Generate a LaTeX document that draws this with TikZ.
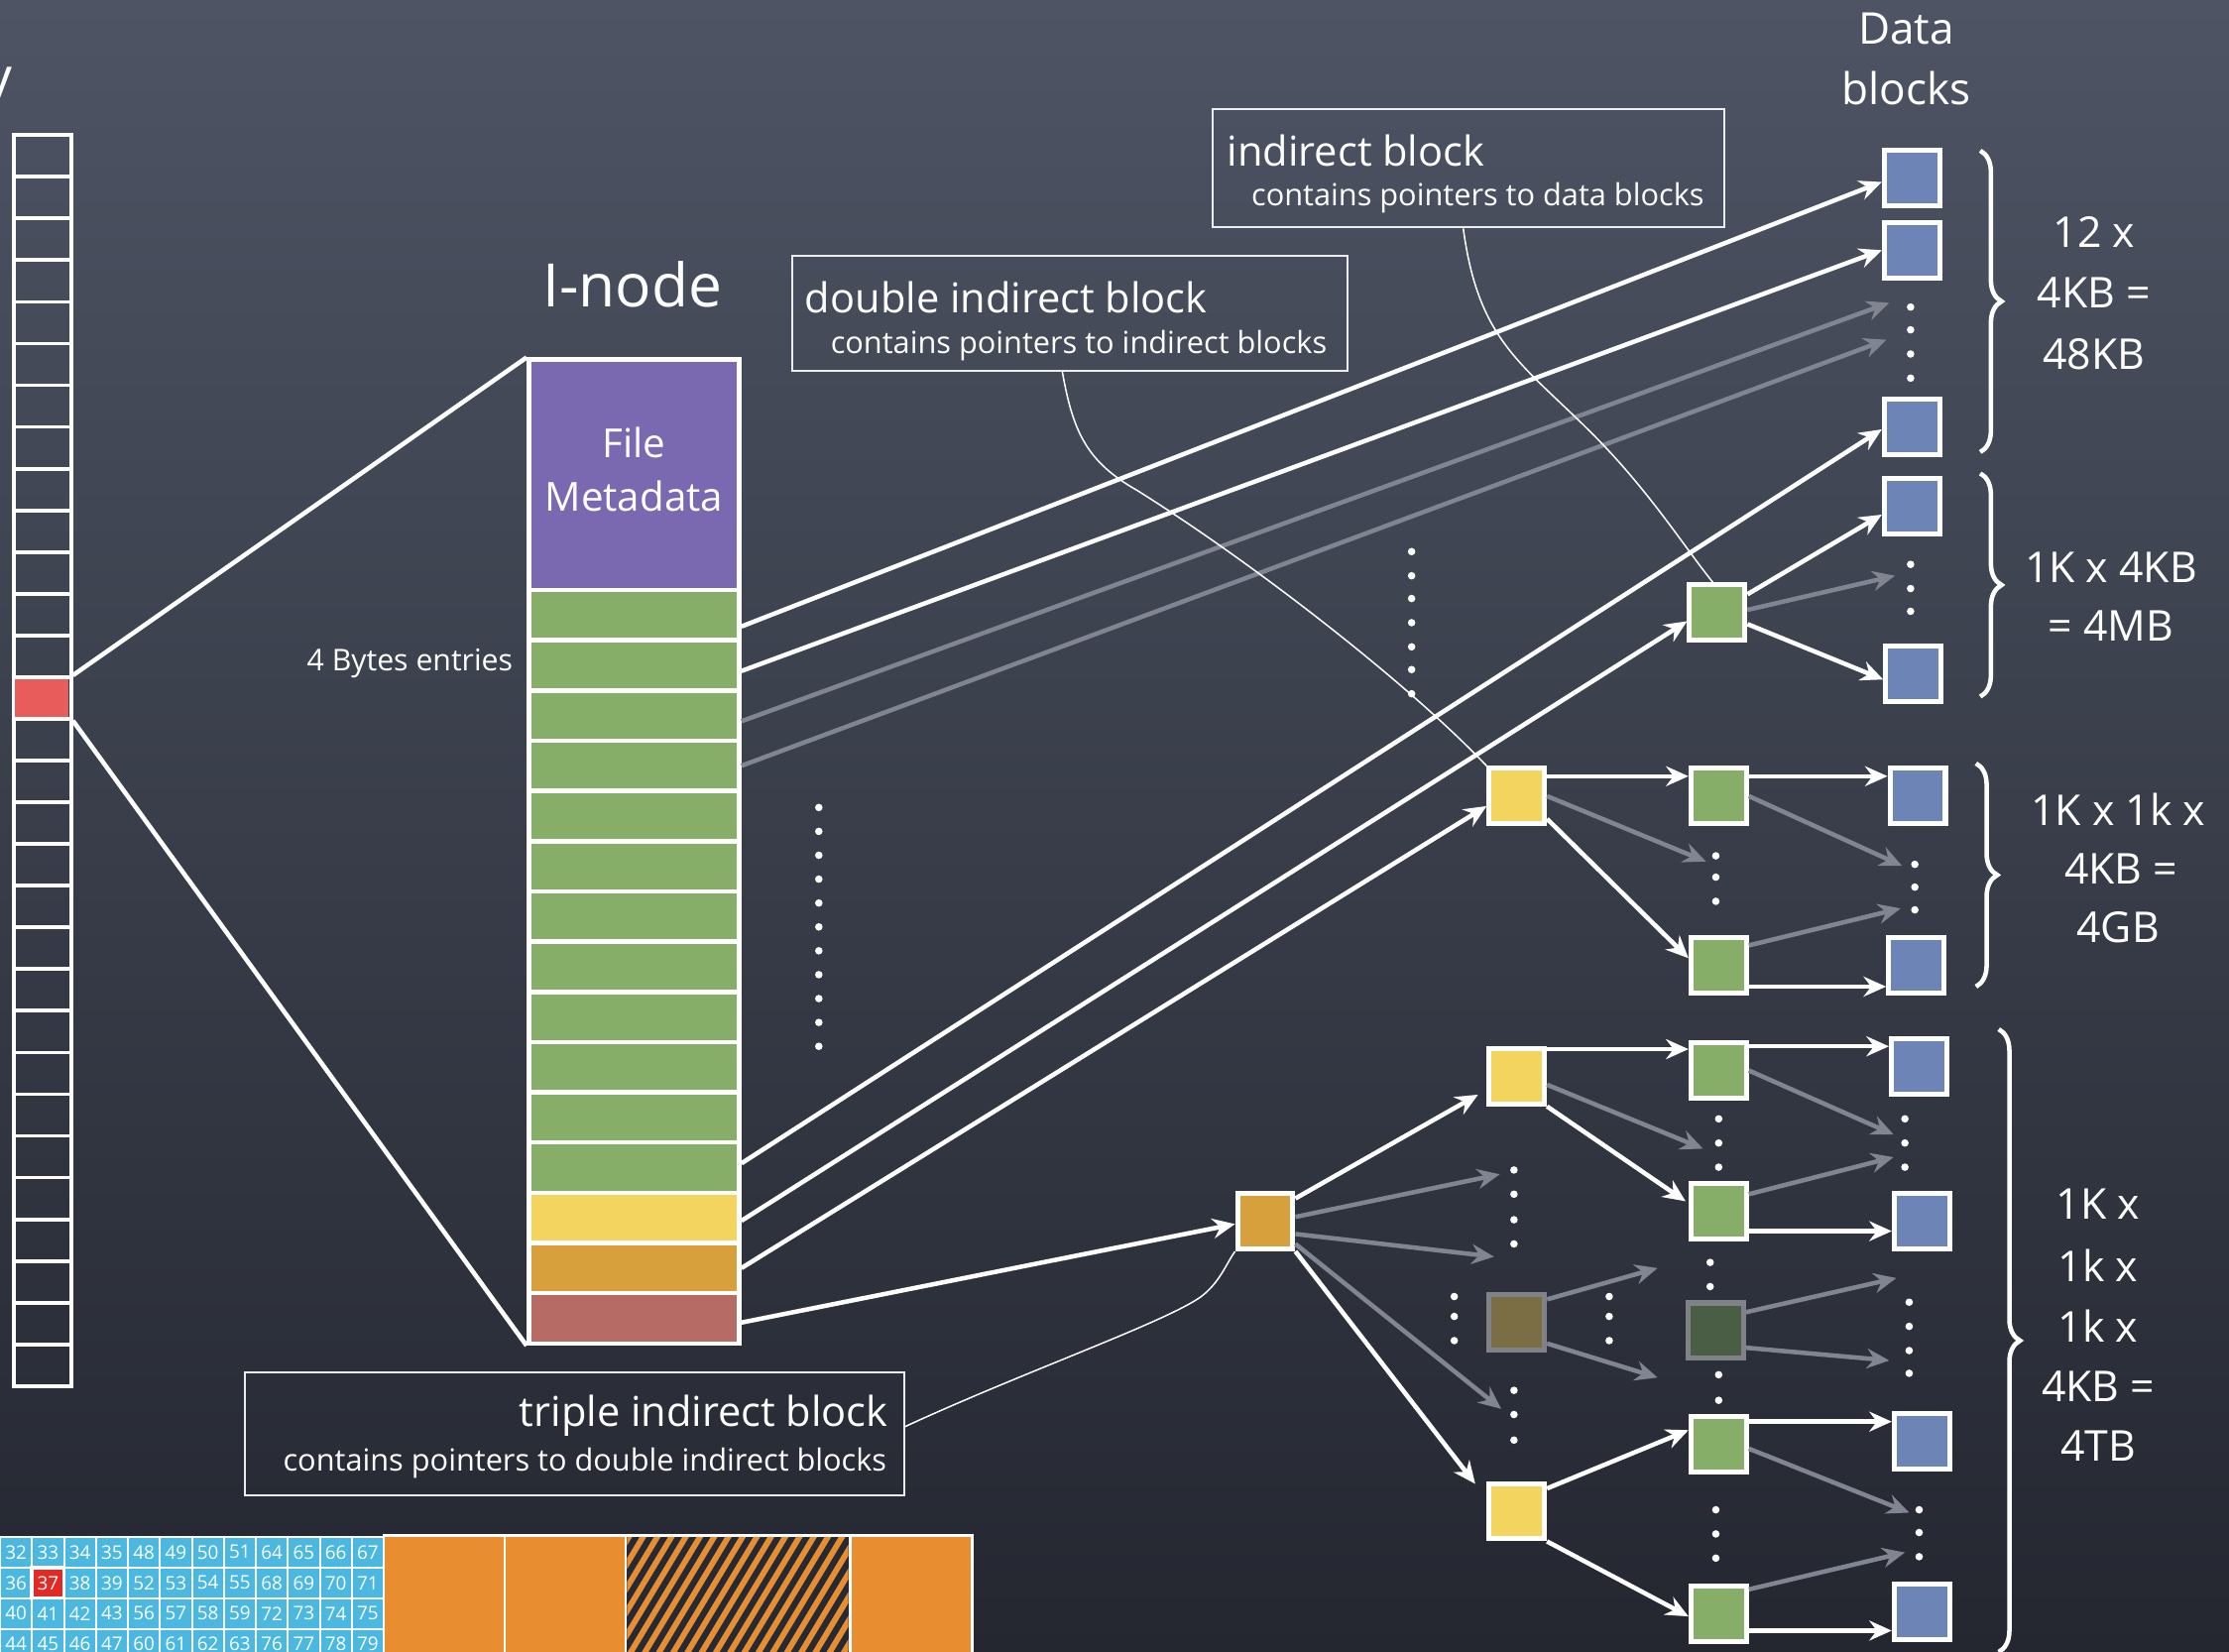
\documentclass[tikz,border=0pt]{standalone}
\usepackage{fontspec}
\setmainfont{Open Sans}
\usetikzlibrary{arrows.meta,calc,decorations.pathreplacing}
\definecolor{bgtop}{RGB}{78,84,100}
\definecolor{bgbot}{RGB}{36,39,48}
\definecolor{purp}{RGB}{122,104,176}
\definecolor{grn}{RGB}{134,174,104}
\definecolor{yel}{RGB}{242,212,94}
\definecolor{org}{RGB}{216,160,60}
\definecolor{redrow}{RGB}{182,108,100}
\definecolor{redcellc}{RGB}{232,92,92}
\definecolor{blu}{RGB}{108,133,182}
\definecolor{fyel}{RGB}{124,110,68}
\definecolor{fgrn}{RGB}{74,94,70}
\definecolor{fborder}{RGB}{128,130,136}
\definecolor{greyarr}{RGB}{128,133,145}
\definecolor{gridblue}{RGB}{74,184,224}
\definecolor{gridred}{RGB}{228,40,36}
\definecolor{stripc}{RGB}{232,142,48}
\definecolor{hatchbg}{RGB}{38,42,52}
\begin{document}
\begin{tikzpicture}[x=0.02cm,y=-0.02cm,
  blk/.style={draw=white,line width=2pt,minimum size=0.78cm,inner sep=0pt},
  dblk/.style={blk,fill=blu},
  gblk/.style={blk,fill=grn},
  yblk/.style={blk,fill=yel},
  oblk/.style={blk,fill=org},
  inrow/.style={draw=white,line width=1.8pt,minimum width=2.96cm,minimum height=0.7067cm,inner sep=0pt},
  cellbox/.style={draw=white,line width=1.5pt,minimum width=0.8cm,minimum height=0.5867cm,inner sep=0pt},
  wline/.style={draw=white,line width=1.8pt},
  warr/.style={wline,-{Stealth[length=9pt,width=8pt,inset=3pt]}},
  garr/.style={draw=greyarr,line width=1.8pt,-{Stealth[length=9pt,width=8pt,inset=3pt]}},
  thinl/.style={draw=white,line width=0.6pt},
  labbox/.style={draw=white!85!gray,line width=0.8pt,inner sep=0pt},
  bigt/.style={text=white,inner sep=0pt,font=\fontsize{16.5}{20}\selectfont},
  smallt/.style={text=white,inner sep=0pt,font=\fontsize{12.2}{15}\selectfont},
  numt/.style={text=white,inner sep=0pt,font=\fontsize{17}{20}\selectfont},
  brc/.style={draw=white,line width=1.8pt,decorate,decoration={brace,amplitude=0.3cm}},
  gridcell/.style={draw=white,line width=0.8pt,minimum width=0.45cm,minimum height=0.432cm,inner sep=0pt,text=white,font=\fontsize{7.5}{8}\selectfont},
  stripblk/.style={draw=white,line width=1pt,fill=stripc,minimum height=2cm,inner sep=0pt}
]
\useasboundingbox (0,0) rectangle (1568,1162);
\shade[top color=bgtop,bottom color=bgbot] (0,0) rectangle (1568,1162);

% cut-off letter at top left
\node[text=white,inner sep=0pt,font=\fontsize{22}{26}\selectfont,anchor=base east] (ytail) at (9,68) {y};

% left column
\foreach \i in {0,...,29} \node[cellbox] (c\i) at (30,{95+(\i+0.5)*29.333}) {};
\fill[redcellc] ($(c13.north west)+(2,3)$) rectangle ($(c13.south east)+(-3,-3)$);

% I-node
\node[text=white,inner sep=0pt,font=\fontsize{24}{28}\selectfont] (ititle) at (445,200) {I-node};
\node[inrow,fill=purp,minimum height=3.24cm] (meta) at (446,334) {};
\node[text=white,inner sep=0pt,align=center,font=\fontsize{16}{21.5}\selectfont] (metatxt) at (446,330) {File\\Metadata};
\foreach \i in {1,...,12} \node[inrow,fill=grn] (r\i) at (446,{415+(\i-0.5)*35.333}) {};
\node[inrow,fill=yel] (ry) at (446,856.7) {};
\node[inrow,fill=org] (ro) at (446,892) {};
\node[inrow,fill=redrow] (rr) at (446,927.3) {};
\node[text=white,inner sep=0pt,anchor=east,font=\fontsize{12}{14}\selectfont] (bytes) at (361,467) {4 Bytes entries};

\draw[wline] (c13.north east) -- (meta.north west);
\draw[wline] (c13.south east) -- (rr.south west);

% data blocks
\node[bigt,font=\fontsize{17.5}{20}\selectfont] (dt1) at (1341,20) {Data};
\node[bigt,font=\fontsize{17.5}{20}\selectfont] (dt2) at (1341,62) {blocks};
\node[dblk] (d1) at (1345,125) {};
\node[dblk] (d2) at (1345,176) {};
\node[dblk] (d3) at (1345,300) {};
\node[dblk] (d4) at (1345,356) {};
\node[dblk] (d5) at (1346,474) {};
\node[dblk] (d6) at (1349,560) {};
\node[dblk] (d7) at (1348,679) {};
\node[dblk] (d8) at (1350,750) {};
\node[dblk] (d9) at (1352,859) {};
\node[dblk] (d10) at (1352,1014) {};
\node[dblk] (d11) at (1352,1134) {};

% indirect blocks
\node[gblk] (gi) at (1208,431) {};
\node[yblk] (y1) at (1067,560) {};
\node[gblk] (g2) at (1209,560) {};
\node[gblk] (g3) at (1209,679) {};
\node[oblk] (o1) at (890,859) {};
\node[yblk] (y2) at (1067,757) {};
\node[blk,fill=fyel,draw=fborder] (y3) at (1067,930) {};
\node[yblk] (y4) at (1067,1063) {};
\node[gblk] (g4) at (1209,753) {};
\node[gblk] (g5) at (1209,852) {};
\node[blk,fill=fgrn,draw=fborder] (g6) at (1207,936) {};
\node[gblk] (g7) at (1209,1016) {};
\node[gblk] (g8) at (1209,1135) {};

% grey arrow end points
\coordinate (ta) at (1329,213);
\coordinate (tb) at (1327,239);
\coordinate (tc) at (1333,405);
\coordinate (td) at (1200,606);
\coordinate (te) at (1338,609);
\coordinate (tf) at (1337,639);
\coordinate (tg) at (1055,826);
\coordinate (th) at (1051,884);
\coordinate (ti) at (1056,991);
\coordinate (tj) at (1198,808);
\coordinate (tk) at (1332,798);
\coordinate (tl) at (1332,814);
\coordinate (tm) at (1166,892);
\coordinate (tn) at (1166,969);
\coordinate (to) at (1334,899);
\coordinate (tp) at (1329,957);
\coordinate (tq) at (1343,1064);
\coordinate (tr) at (1340,1092);

% arrows from the I-node
\draw[warr] ($(r1.east)+(0,8)$) -- ($(d1.west)+(0,3)$);
\draw[warr] ($(r2.east)+(0,4)$) -- (d2.west);
\draw[garr] ($(r3.east)+(0,4)$) -- (ta);
\draw[garr] (r4.east) -- (tb);
\draw[warr] ($(r12.east)+(0,-3)$) -- ($(d3.west)+(0,2)$);
\draw[warr] ($(ry.east)+(0,2)$) -- ($(gi.west)+(0,6)$);
\draw[warr] (ro.east) -- ($(y1.west)+(0,7)$);
\draw[warr] ($(rr.east)+(0,3)$) -- ($(o1.west)+(0,2)$);

% single indirect
\draw[warr] ($(gi.east)+(0,-13)$) -- ($(d4.west)+(0,6)$);
\draw[garr] ($(gi.east)+(0,-2)$) -- (tc);
\draw[warr] ($(gi.east)+(0,8)$) -- ($(d5.west)+(0,4)$);

% double indirect
\draw[warr] ($(y1.east)+(0,-14)$) -- ($(g2.west)+(0,-14)$);
\draw[garr] (y1.east) -- (td);
\draw[warr] ($(y1.east)+(0,16)$) -- ($(g3.west)+(0,-5)$);
\draw[warr] ($(g2.east)+(0,-14)$) -- ($(d6.west)+(0,-14)$);
\draw[garr] (g2.east) -- (te);
\draw[garr] ($(g3.east)+(0,-14)$) -- (tf);
\draw[warr] ($(g3.east)+(0,15)$) -- ($(d7.west)+(0,15)$);

% triple indirect
\draw[warr] ($(o1.east)+(0,-16)$) -- ($(y2.west)+(-6,13)$);
\draw[garr] ($(o1.east)+(0,-3)$) -- (tg);
\draw[garr] ($(o1.east)+(0,9)$) -- (th);
\draw[garr] ($(o1.east)+(0,16)$) -- (ti);
\draw[warr] (o1.south east) -- ($(y4.north west)+(-8,2)$);
\draw[warr] ($(y2.east)+(0,-19)$) -- ($(g4.west)+(0,-15)$);
\draw[garr] ($(y2.east)+(0,6)$) -- (tj);
\draw[warr] (y2.south east) -- ($(g5.west)+(-2,-7)$);
\draw[warr] ($(g4.east)+(0,-17)$) -- ($(d8.west)+(0,-14)$);
\draw[garr] (g4.east) -- (tk);
\draw[garr] ($(g5.east)+(0,-12)$) -- (tl);
\draw[warr] ($(g5.east)+(0,14)$) -- ($(d9.west)+(0,7)$);
\draw[garr] ($(y3.east)+(0,-16)$) -- (tm);
\draw[garr] ($(y3.east)+(0,15)$) -- (tn);
\draw[garr] ($(g6.east)+(0,-13)$) -- (to);
\draw[garr] ($(g6.east)+(0,12)$) -- (tp);
\draw[warr] ($(y4.east)+(0,-16)$) -- ($(g7.west)+(0,-10)$);
\draw[warr] (y4.south east) -- ($(g8.west)+(0,2)$);
\draw[warr] ($(g7.east)+(0,-16)$) -- ($(d10.west)+(0,-14)$);
\draw[garr] ($(g7.east)+(0,3)$) -- (tq);
\draw[garr] ($(g8.east)+(0,-17)$) -- (tr);
\draw[warr] ($(g8.east)+(0,12)$) -- ($(d11.west)+(0,13)$);

% dots
\foreach \k in {0,...,10} \fill[white] (576,{568+\k*16.8}) circle[radius=1.5pt];
\foreach \yy in {388,405,421,438,455,471,488} \fill[white] (993,\yy) circle[radius=1.5pt];
\foreach \p in {(1344,216),(1344,232),(1344,249),(1344,266),
  (1344,397),(1344,414),(1344,430),
  (1207,602),(1207,617),(1207,634),(1347,608),(1347,624),(1347,640),
  (1065,823),(1065,840),(1065,858),(1065,875),
  (1065,978),(1065,995),(1065,1013),
  (1023,912),(1023,926),(1023,943),(1132,912),(1132,926),(1132,943),
  (1209,787),(1209,804),(1209,821),(1203,888),(1203,905),(1209,967),(1209,985),
  (1207,1062),(1207,1079),(1207,1096),
  (1340,787),(1340,804),(1340,821),
  (1343,916),(1343,933),(1343,950),(1343,966),
  (1350,1062),(1350,1078),(1350,1095)}
  \fill[white] \p circle[radius=1.5pt];

% braces and sizes
\draw[brc] (1393,106) -- (1393,318);
\draw[brc] (1393,333) -- (1393,490);
\draw[brc] (1390,537) -- (1390,694);
\draw[brc] (1406,724) -- (1406,1162);
\node[numt] (s1a) at (1473,163) {12 x};
\node[numt] (s1b) at (1473,206) {4KB =};
\node[numt] (s1c) at (1473,249) {48KB};
\node[numt] (s2a) at (1485,399) {1K x 4KB};
\node[numt] (s2b) at (1485,440) {= 4MB};
\node[numt] (s3a) at (1490,569) {1K x 1k x};
\node[numt] (s3b) at (1492,611) {4KB =};
\node[numt] (s3c) at (1490,652) {4GB};
\node[numt] (s4a) at (1476,847) {1K x};
\node[numt] (s4b) at (1476,890) {1k x};
\node[numt] (s4c) at (1476,933) {1k x};
\node[numt] (s4d) at (1476,975) {4KB =};
\node[numt] (s4e) at (1476,1017) {4TB};

% label boxes
\node[labbox,minimum width=7.2cm,minimum height=1.66cm] (ilab) at (1033,118.5) {};
\node[bigt,anchor=west] (ilabT) at (863,106) {indirect block};
\node[smallt,anchor=west] (ilabS) at (880,139) {contains pointers to data blocks};
\node[labbox,minimum width=7.82cm,minimum height=1.62cm] (dlab) at (752.5,220.5) {};
\node[bigt,anchor=west] (dlabT) at (566,209) {double indirect block};
\node[smallt,anchor=west] (dlabS) at (584,243) {contains pointers to indirect blocks};
\node[labbox,minimum width=9.28cm,minimum height=1.74cm] (tlab) at (404,1008.5) {};
\node[bigt,anchor=east] (tlabT) at (625,996) {triple indirect block};
\node[smallt,anchor=east] (tlabS) at (624,1029) {contains pointers to double indirect blocks};

\draw[thinl] ($(ilab.south west)+(177,0)$) .. controls (1040,240) and (1070,255) .. (1120,305) .. controls (1160,345) and (1185,385) .. ($(gi.north)+(-3,0)$);
\draw[thinl] ($(dlab.south west)+(191,0)$) .. controls (755,305) and (765,325) .. (800,345) .. controls (880,395) and (990,480) .. (y1.north west);
\draw[thinl] ($(tlab.east)+(0,-5)$) .. controls (720,965) and (820,930) .. (845,912) .. controls (858,902) and (862,890) .. (o1.south west);

% bottom strip: block grid
\foreach \gr in {0,...,3} \foreach \gc in {0,...,11} {
  \pgfmathtruncatemacro\num{32+16*int(\gc/4)+4*\gr+mod(\gc,4)}
  \ifnum\num=37 \def\cellfill{gridred}\def\cellw{1.4pt}\else\def\cellfill{gridblue}\def\cellw{0.8pt}\fi
  \node[gridcell,fill=\cellfill,line width=\cellw] (n\num) at ({(\gc+0.5)*22.5},{1081+(\gr+0.5)*21.6}) {\num};
}
\node[stripblk,minimum width=1.7cm] (sb1) at (312.5,1130) {};
\node[stripblk,minimum width=1.7cm] (sb2) at (397.5,1130) {};
\node[stripblk,minimum width=3.16cm,fill=hatchbg] (sb3) at (519,1130) {};
\node[stripblk,minimum width=1.72cm] (sb4) at (641,1130) {};
\begin{scope}
\clip ($(sb3.north west)+(2,2)$) rectangle ($(sb3.south east)+(-2,-2)$);
\foreach \k in {-14,...,18} \draw[stripc,line width=2.3pt] ({440+\k*10},1185) -- ++(66,-110);
\end{scope}
\end{tikzpicture}
\end{document}
